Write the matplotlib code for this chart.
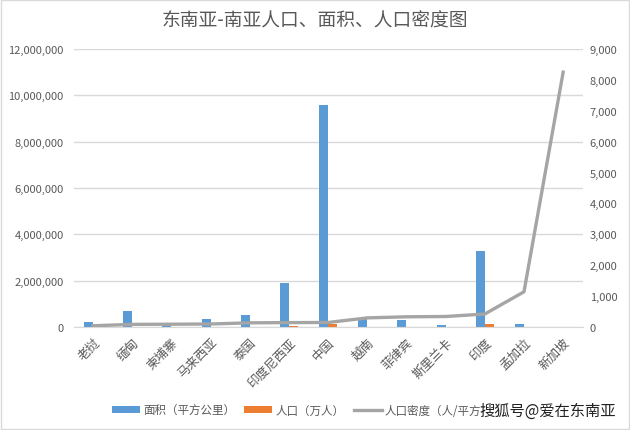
import numpy as np
import matplotlib
matplotlib.use('Agg')
from matplotlib import pyplot as plt
from matplotlib.patches import Rectangle

plt.rcParams['font.family'] = ['Noto Sans CJK SC', 'DejaVu Sans']

countries = ['老挝', '缅甸', '柬埔寨', '马来西亚', '泰国', '印度尼西亚', '中国',
             '越南', '菲律宾', '斯里兰卡', '印度', '孟加拉', '新加坡']
area = [236800, 676578, 181035, 330000, 513000, 1904569, 9600000,
        329556, 300000, 65610, 3287590, 147570, 720]
population = [700, 5400, 1600, 3200, 6900, 27000, 140000,
              9700, 11000, 2200, 138000, 16500, 570]
density = [40, 85, 90, 97, 135, 142, 146, 295, 330, 340, 420, 1140, 8250]

left_ticks = [0, 2000000, 4000000, 6000000, 8000000, 10000000, 12000000]
right_ticks = [0, 1000, 2000, 3000, 4000, 5000, 6000, 7000, 8000, 9000]

txt = '#595959'
grid = '#D9D9D9'

fig = plt.figure(figsize=(6.3, 4.31), dpi=100)
fig.patches.append(Rectangle((0.002, 0.002), 0.996, 0.996, transform=fig.transFigure,
                             fill=False, edgecolor='#D9D9D9', linewidth=1))
ax = fig.add_axes([0.1167, 0.239, 0.8083, 0.645])
ax2 = ax.twinx()

x = np.arange(len(countries))
w = 0.23
b1 = ax.bar(x - w / 2, area, w, color='#5B9BD5', zorder=2)
b2 = ax.bar(x + w / 2, population, w, color='#ED7D31', zorder=2)
l1, = ax2.plot(x, density, color='#A5A5A5', linewidth=2.4, zorder=3)

ax.set_xlim(-0.5, len(countries) - 0.5)
ax.set_ylim(0, 12000000)
ax2.set_ylim(0, 9000)
ax.set_yticks(left_ticks)
ax.set_yticklabels(['{:,}'.format(v) for v in left_ticks])
ax2.set_yticks(right_ticks)
ax2.set_yticklabels(['{:,}'.format(v) for v in right_ticks])
ax.yaxis.grid(True, color=grid, linewidth=1)
ax.set_axisbelow(True)

for a in (ax, ax2):
    for s in a.spines.values():
        s.set_visible(False)
    a.tick_params(length=0, labelsize=8, colors=txt)
ax.spines['bottom'].set_visible(True)
ax.spines['bottom'].set_color(grid)
ax.tick_params(axis='y', pad=7)
ax2.tick_params(axis='y', pad=5)

ax.set_xticks(x)
ax.set_xticklabels(countries, rotation=45, ha='right', rotation_mode='anchor',
                   fontsize=9, color=txt)
ax.tick_params(axis='x', pad=6)

fig.text(0.5, 0.952, '东南亚-南亚人口、面积、人口密度图', ha='center', va='center',
         fontsize=13.5, color=txt)

fig.legend([b1, b2, l1], ['面积（平方公里）', '人口（万人）', '人口密度（人/平方'],
           loc='center left', bbox_to_anchor=(0.178, 0.046), ncol=3, frameon=False,
           fontsize=8.3, labelcolor=txt, handlelength=2.4, handleheight=0.6,
           columnspacing=0.8, handletextpad=0.3, borderpad=0, borderaxespad=0)

fig.text(0.869, 0.046, '搜狐号@爱在东南亚', ha='center', va='center', fontsize=11,
         color='#222222')

fig.savefig('out.png', dpi=100)
